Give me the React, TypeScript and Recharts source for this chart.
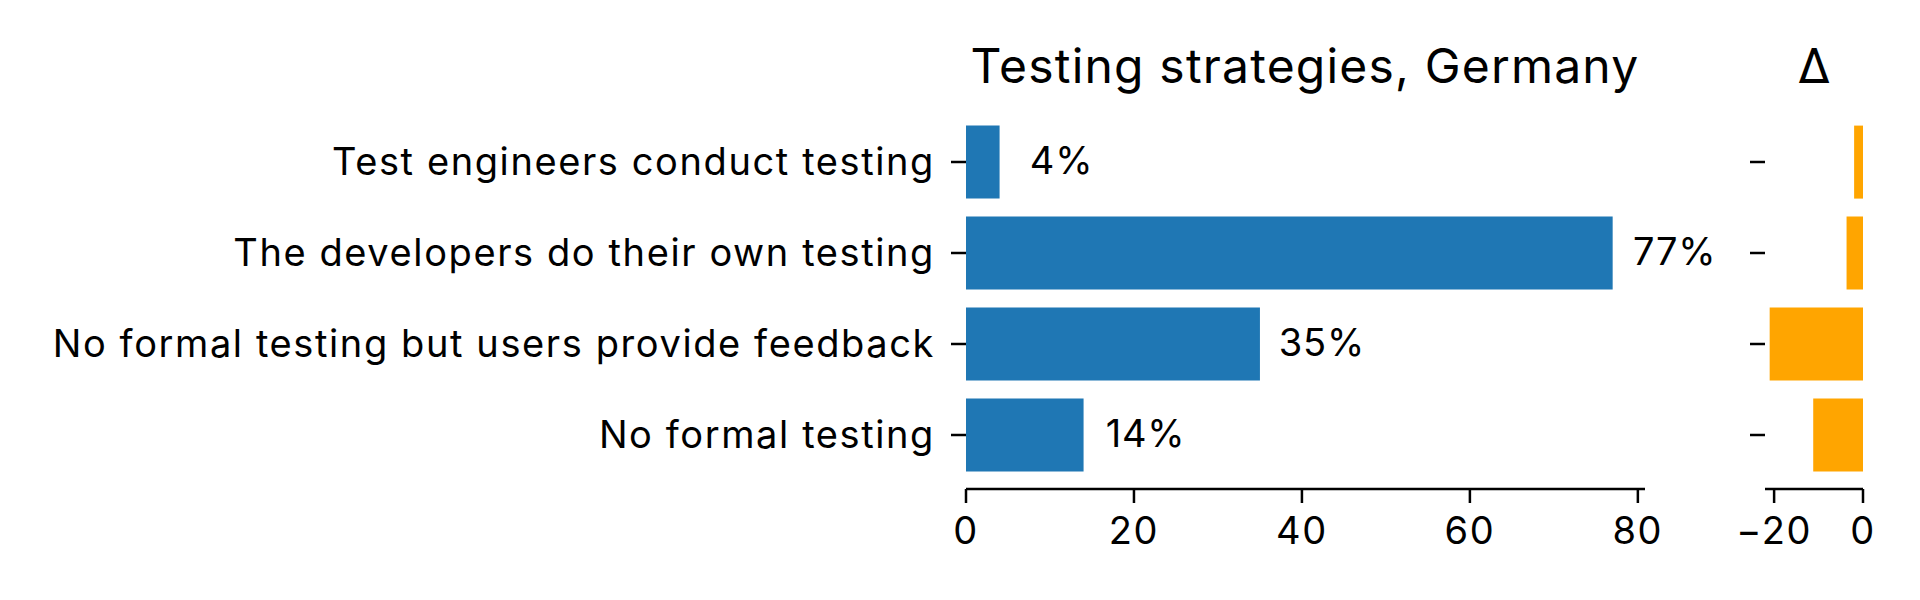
import { Bar, BarChart, XAxis, YAxis, LabelList } from "recharts"

const categories = [
  "Test engineers conduct testing",
  "The developers do their own testing",
  "No formal testing but users provide feedback",
  "No formal testing",
]
const shares = [4, 77, 35, 14]
const deltas = [-2, -3.7, -21, -11.2]
const shareTicks = [0, 20, 40, 60, 80]
const deltaTicks = [-20, 0]

const FONT = "Inter, 'DejaVu Sans', sans-serif"
const BLUE = "#1f77b4"
const ORANGE = "#ffa500"

const data = categories.map((name, i) => ({ name, share: shares[i], delta: deltas[i] }))

const tickStyle = { fill: "#000", fontSize: 38, fontFamily: FONT, letterSpacing: 1.6 }
const axisLineStyle = { stroke: "#000", strokeWidth: 2.5 }

function ShareLabel(props: any) {
  const { x, y, width, height, value } = props
  return (
    <text
      x={x + width + 62}
      y={y + height / 2 - 2}
      textAnchor="middle"
      dominantBaseline="central"
      fontSize={38}
      fontFamily={FONT}
      letterSpacing={0.8}
      fill="#000"
    >
      {value}%
    </text>
  )
}

export default function App() {
  return (
    <div style={{ position: "absolute", left: 0, top: 0, width: 1920, height: 600, background: "#fff" }}>
      <svg width={1920} height={110} style={{ position: "absolute", left: 0, top: 0 }}>
        <text x={1305} y={83} textAnchor="middle" fontSize={48} fontFamily={FONT} letterSpacing={1.2} fill="#000">
          Testing strategies, Germany
        </text>
        <text x={1814} y={83} textAnchor="middle" fontSize={48} fontFamily={FONT} fill="#000">
          Δ
        </text>
      </svg>

      <div style={{ position: "absolute", left: 0, top: 0 }}>
        <BarChart
          width={1720}
          height={600}
          data={data}
          layout="vertical"
          barCategoryGap="10%"
          margin={{ top: 108, right: 75, bottom: 51, left: 0 }}
        >
          <XAxis
            type="number"
            domain={[0, 80.85]}
            ticks={shareTicks}
            height={60}
            tick={tickStyle}
            tickSize={14}
            tickMargin={14}
            axisLine={axisLineStyle}
            tickLine={axisLineStyle}
          />
          <YAxis
            type="category"
            dataKey="name"
            width={966}
            padding={{ top: 8.5, bottom: 8.5 }}
            tick={tickStyle}
            tickSize={15}
            tickMargin={16}
            axisLine={false}
            tickLine={axisLineStyle}
            interval={0}
          />
          <Bar dataKey="share" fill={BLUE} isAnimationActive={false}>
            <LabelList dataKey="share" content={ShareLabel} />
          </Bar>
        </BarChart>
      </div>

      <div style={{ position: "absolute", left: 1720, top: 0 }}>
        <BarChart
          width={200}
          height={600}
          data={data}
          layout="vertical"
          barCategoryGap="10%"
          margin={{ top: 108, right: 57, bottom: 51, left: 0 }}
        >
          <XAxis
            type="number"
            domain={[-22.05, 0]}
            ticks={deltaTicks}
            height={60}
            tick={tickStyle}
            tickSize={14}
            tickMargin={14}
            axisLine={axisLineStyle}
            tickLine={axisLineStyle}
            tickFormatter={(v: number) => (v < 0 ? `\u2212${Math.abs(v)}` : `${v}`)}
          />
          <YAxis
            type="category"
            dataKey="name"
            width={45}
            padding={{ top: 8.5, bottom: 8.5 }}
            tickSize={15}
            tickFormatter={() => ""}
            axisLine={false}
            tickLine={axisLineStyle}
            interval={0}
          />
          <Bar dataKey="delta" fill={ORANGE} isAnimationActive={false} />
        </BarChart>
      </div>
    </div>
  )
}
